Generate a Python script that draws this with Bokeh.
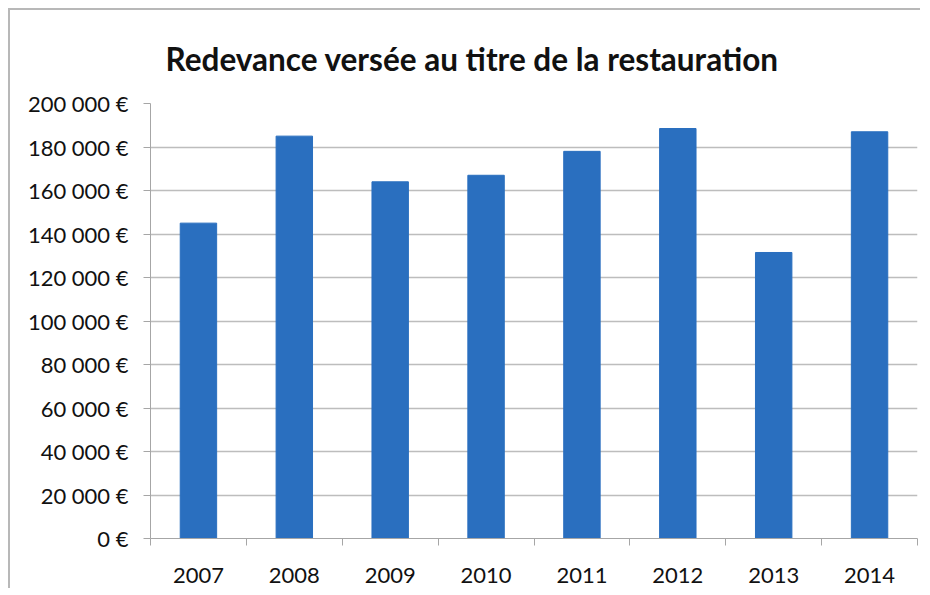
from bokeh.plotting import figure
from bokeh.embed import file_html
from bokeh.resources import INLINE
from bokeh.models import FixedTicker, Range1d, ColumnDataSource

title_text = "Redevance versée au titre de la restauration"
years = ["2007", "2008", "2009", "2010", "2011", "2012", "2013", "2014"]
redevance = [145000, 185000, 164000, 167000, 178000, 188500, 131500, 187000]
y_ticks = [0, 20000, 40000, 60000, 80000, 100000, 120000, 140000, 160000, 180000, 200000]
y_tick_labels = ["0 €", "20 000 €", "40 000 €", "60 000 €", "80 000 €", "100 000 €",
                 "120 000 €", "140 000 €", "160 000 €", "180 000 €", "200 000 €"]

n = len(years)
centers = [i + 0.5 for i in range(n)]
bounds = [float(i) for i in range(n + 1)]

src = ColumnDataSource(dict(x=centers, top=redevance, year=years))

p = figure(width=912, height=580, output_backend="svg", toolbar_location=None,
           x_range=Range1d(0, n), y_range=Range1d(0, 200000),
           min_border_left=140, min_border_right=5, min_border_bottom=52, min_border_top=93)

p.title.text = title_text
p.title.align = "left"
p.title.text_font = "Lato"
p.title.text_font_style = "bold"
p.title.text_font_size = "31.5px"
p.title.text_color = "#111111"
p.title.offset = 15
p.title.standoff = 51

p.vbar(x="x", top="top", width=0.38, source=src, color="#2a6fbf")

p.outline_line_color = None
p.background_fill_color = "white"
p.border_fill_color = "white"
p.styles = {"margin-top": "8px", "margin-left": "8px",
            "border-top": "2px solid #b8b8b8", "border-left": "2px solid #b8b8b8"}

# y axis
p.yaxis.ticker = FixedTicker(ticks=y_ticks, minor_ticks=[])
p.yaxis.major_label_overrides = {t: l for t, l in zip(y_ticks, y_tick_labels)}
p.yaxis.major_label_text_font = "Lato"
p.yaxis.major_label_text_font_size = "22px"
p.yaxis.major_label_text_color = "#111111"
p.yaxis.axis_line_color = "#a6a6a6"
p.yaxis.major_tick_line_color = "#a6a6a6"
p.yaxis.major_tick_out = 7
p.yaxis.major_tick_in = 0
p.yaxis.major_label_standoff = 15

# x axis
p.xaxis.ticker = FixedTicker(ticks=centers, minor_ticks=bounds)
p.xaxis.major_label_overrides = {c: y for c, y in zip(centers, years)}
p.xaxis.major_label_text_font = "Lato"
p.xaxis.major_label_text_font_size = "22px"
p.xaxis.major_label_text_color = "#111111"
p.xaxis.axis_line_color = "#a6a6a6"
p.xaxis.major_tick_line_color = None
p.xaxis.major_tick_out = 0
p.xaxis.major_tick_in = 0
p.xaxis.minor_tick_line_color = "#a6a6a6"
p.xaxis.minor_tick_out = 7
p.xaxis.minor_tick_in = 0
p.xaxis.major_label_standoff = 22

p.xgrid.grid_line_color = None
p.ygrid.ticker = FixedTicker(ticks=y_ticks)
p.ygrid.grid_line_color = "#bdbdbd"
p.ygrid.grid_line_width = 1.5

open("out.html", "w").write(file_html(p, INLINE))
